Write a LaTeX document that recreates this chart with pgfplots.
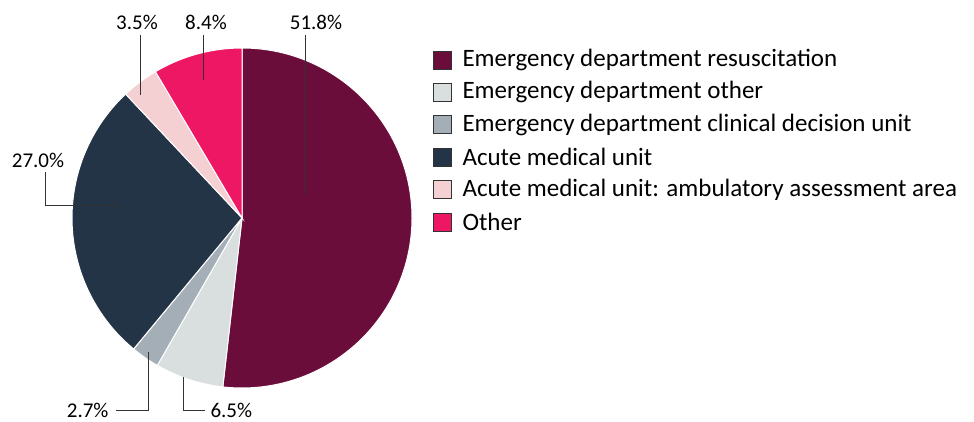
\documentclass[border=0pt]{standalone}
\usepackage{pgfplots}
\pgfplotsset{compat=1.18}
\usepackage{fontspec}
\setmainfont{Carlito}
\definecolor{cA}{HTML}{6B0D3A}
\definecolor{cB}{HTML}{D9DEDE}
\definecolor{cC}{HTML}{A3AEB6}
\definecolor{cD}{HTML}{243447}
\definecolor{cE}{HTML}{F5D0D3}
\definecolor{cF}{HTML}{EE1763}
\begin{document}
\begin{tikzpicture}
\begin{axis}[width=974pt,height=422pt,scale only axis,xmin=0,xmax=974,ymin=0,ymax=422,hide axis,clip=false]
\foreach \c/\a/\b in {cA/90/-96.48,cB/-96.48/-119.88,cC/-119.88/-129.6,cD/-129.6/-226.8,cE/-226.8/-239.4,cF/-239.4/-270}{
\edef\tmp{\noexpand\fill[\c,draw=white,line width=1pt] (axis cs:242,204) -- ++(\a:170pt) arc[start angle=\a,end angle=\b,radius=170pt] -- cycle;}
\tmp
}
\draw[black!80,line width=0.6pt] (axis cs:305,387) -- (axis cs:305,227);
\draw[black!80,line width=0.6pt] (axis cs:203,387) -- (axis cs:203,342);
\draw[black!80,line width=0.6pt] (axis cs:140,387) -- (axis cs:140,327);
\draw[black!80,line width=0.6pt] (axis cs:45,250) -- (axis cs:45,217) -- (axis cs:120,217);
\draw[black!80,line width=0.6pt] (axis cs:116,12) -- (axis cs:148,12) -- (axis cs:148,70);
\draw[black!80,line width=0.6pt] (axis cs:205,12) -- (axis cs:183,12) -- (axis cs:183,45);
\node[font=\fontsize{21}{25}\selectfont] at (axis cs:316,400) {51.8\%};
\node[font=\fontsize{21}{25}\selectfont] at (axis cs:206,400) {8.4\%};
\node[font=\fontsize{21}{25}\selectfont] at (axis cs:137,400) {3.5\%};
\node[font=\fontsize{21}{25}\selectfont] at (axis cs:38,262) {27.0\%};
\node[font=\fontsize{21}{25}\selectfont,anchor=east] at (axis cs:112,12) {2.7\%};
\node[font=\fontsize{21}{25}\selectfont,anchor=west] at (axis cs:207,12) {6.5\%};
\foreach \c/\t [count=\i] in {cA/Emergency department resuscitation,cB/Emergency department other,cC/Emergency department clinical decision unit,cD/Acute medical unit,cE/Acute medical unit: ambulatory assessment area,cF/Other}{
\pgfmathsetmacro{\yy}{422-60-(\i-1)*32.4}
\edef\tmp{\noexpand\fill[\c,draw=black!80,line width=0.6pt] (axis cs:433,\yy-9) rectangle (axis cs:451,\yy+9);
\noexpand\node[anchor=west,font=\noexpand\fontsize{25}{29}\noexpand\selectfont] at (axis cs:459,\yy) {\t};}
\tmp
}
\end{axis}
\pgfresetboundingbox
\path[use as bounding box] (0,0) rectangle (974pt,422pt);
\end{tikzpicture}
\end{document}
